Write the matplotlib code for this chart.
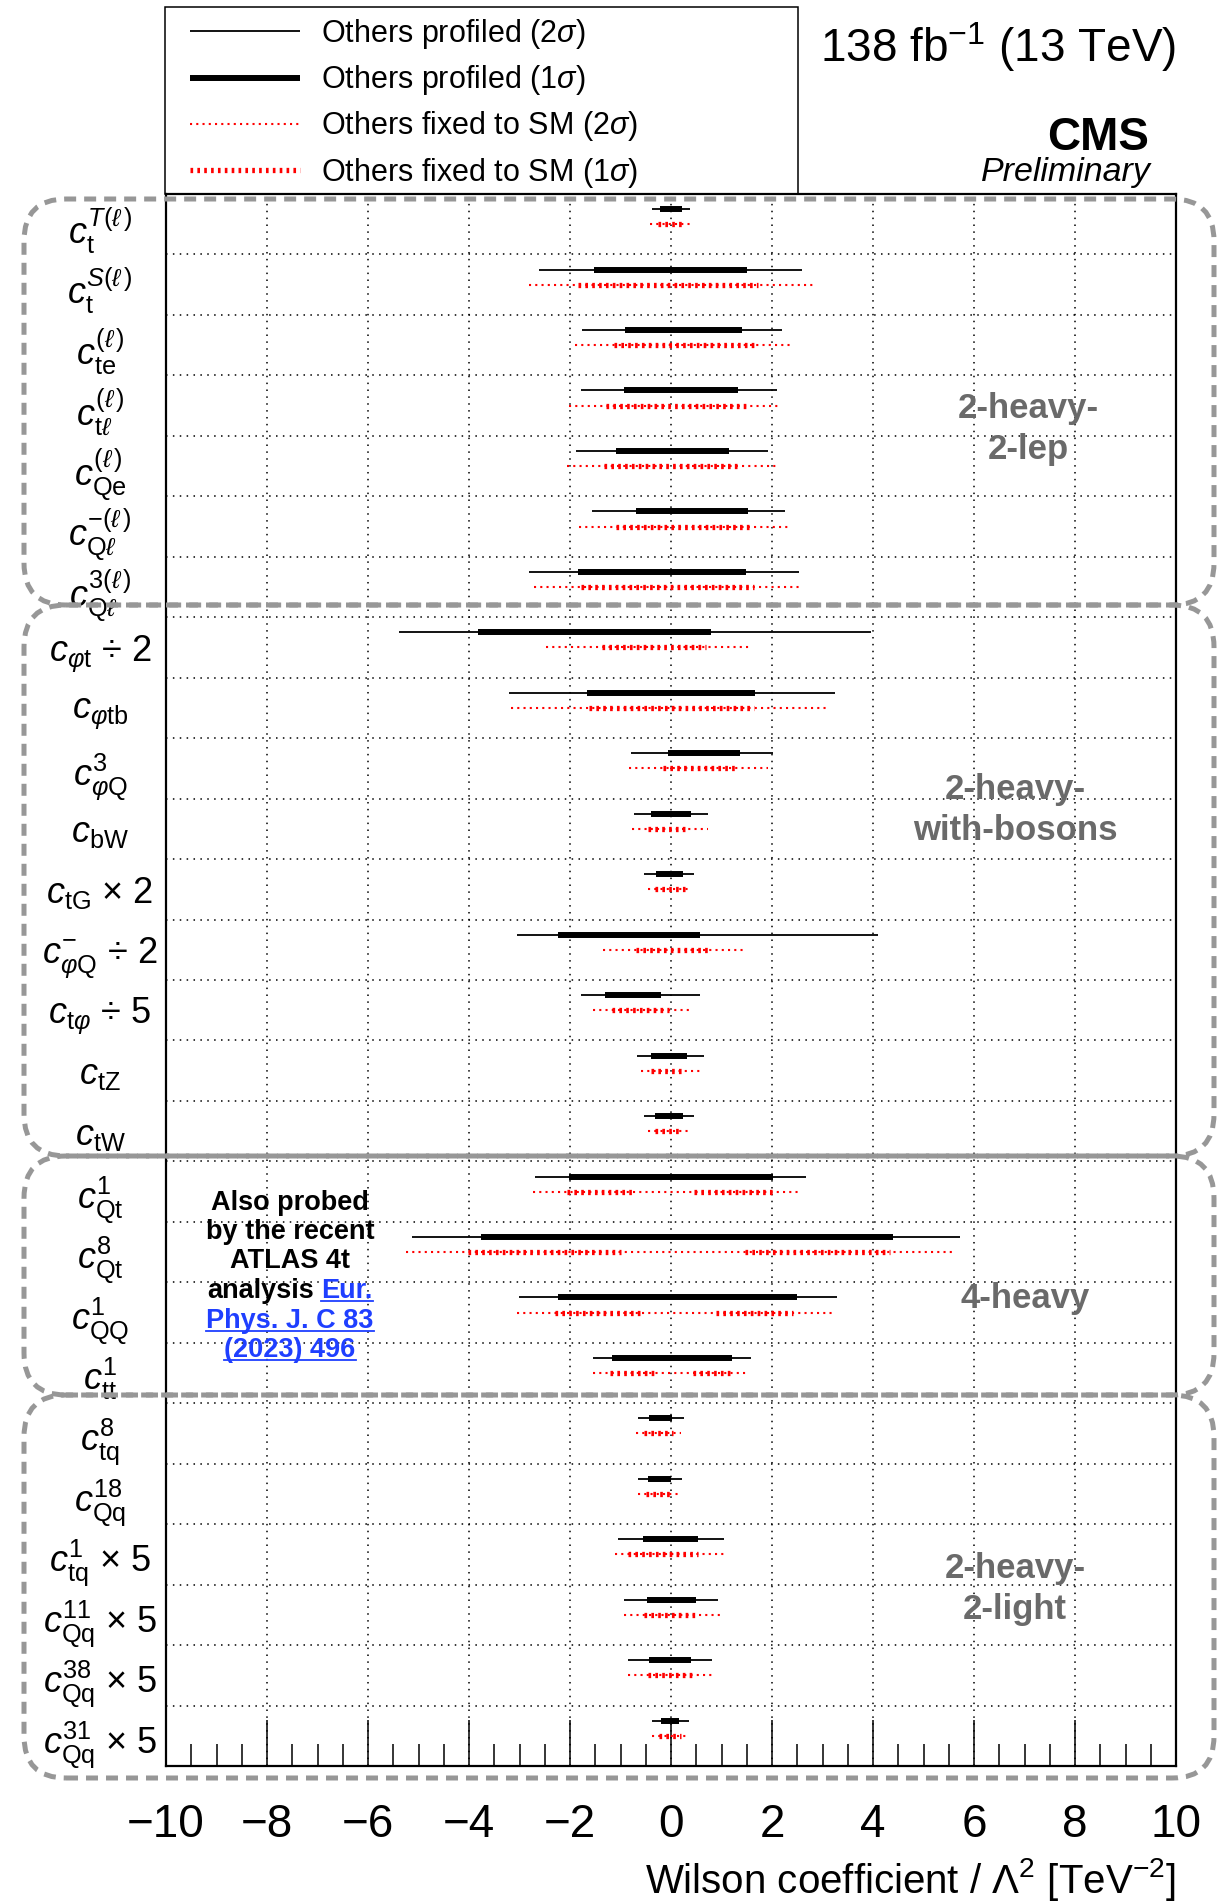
import matplotlib
matplotlib.use('Agg')
import matplotlib.pyplot as plt
from matplotlib.patches import FancyBboxPatch, Rectangle
from matplotlib.lines import Line2D
from matplotlib.ticker import MultipleLocator, FixedLocator

plt.rcParams['font.family'] = ['Liberation Sans', 'DejaVu Sans']
plt.rcParams['mathtext.fontset'] = 'custom'
plt.rcParams['mathtext.rm'] = 'Liberation Sans'
plt.rcParams['mathtext.it'] = 'Liberation Sans:italic'
plt.rcParams['mathtext.bf'] = 'Liberation Sans:bold'
plt.rcParams['mathtext.fallback'] = 'stixsans'

# Wilson coefficients, top to bottom
labels = [
    r'$c_{\mathrm{t}}^{T(\ell\,)}$', r'$c_{\mathrm{t}}^{S(\ell\,)}$', r'$c_{\mathrm{te}}^{(\ell\,)}$',
    r'$c_{\mathrm{t}\ell}^{(\ell\,)}$', r'$c_{\mathrm{Qe}}^{(\ell\,)}$', r'$c_{\mathrm{Q}\ell}^{-(\ell\,)}$',
    r'$c_{\mathrm{Q}\ell}^{3(\ell\,)}$',
    r'$c_{\varphi\mathrm{t}}$ ÷ 2', r'$c_{\varphi\mathrm{tb}}$', r'$c_{\varphi\mathrm{Q}}^{3}$',
    r'$c_{\mathrm{bW}}$', r'$c_{\mathrm{tG}}$ × 2', r'$c_{\varphi\mathrm{Q}}^{-}$ ÷ 2',
    r'$c_{\mathrm{t}\varphi}$ ÷ 5', r'$c_{\mathrm{tZ}}$', r'$c_{\mathrm{tW}}$',
    r'$c_{\mathrm{Qt}}^{1}$', r'$c_{\mathrm{Qt}}^{8}$', r'$c_{\mathrm{QQ}}^{1}$', r'$c_{\mathrm{tt}}^{1}$',
    r'$c_{\mathrm{tq}}^{8}$', r'$c_{\mathrm{Qq}}^{18}$', r'$c_{\mathrm{tq}}^{1}$ × 5',
    r'$c_{\mathrm{Qq}}^{11}$ × 5', r'$c_{\mathrm{Qq}}^{38}$ × 5', r'$c_{\mathrm{Qq}}^{31}$ × 5',
]

# others profiled, 2 sigma
prof2_lo = [-0.37, -2.61, -1.76, -1.78, -1.89, -1.56, -2.82, -5.38, -3.21, -0.80, -0.74, -0.54, -3.04,
            -1.79, -0.68, -0.53, -2.70, -5.13, -3.01, -1.55, -0.66, -0.66, -1.05, -0.94, -0.85, -0.37]
prof2_hi = [0.37, 2.59, 2.20, 2.09, 1.93, 2.26, 2.53, 3.96, 3.25, 2.01, 0.74, 0.46, 4.10,
            0.57, 0.65, 0.45, 2.67, 5.73, 3.29, 1.59, 0.25, 0.22, 1.04, 0.94, 0.82, 0.36]
# others profiled, 1 sigma
prof1_lo = [-0.21, -1.52, -0.92, -0.93, -1.09, -0.69, -1.84, -3.83, -1.67, -0.06, -0.39, -0.29, -2.24,
            -1.30, -0.40, -0.31, -2.02, -3.76, -2.23, -1.17, -0.43, -0.45, -0.56, -0.48, -0.43, -0.19]
prof1_hi = [0.22, 1.50, 1.40, 1.33, 1.14, 1.52, 1.49, 0.79, 1.67, 1.36, 0.39, 0.23, 0.57,
            -0.19, 0.31, 0.23, 2.01, 4.39, 2.49, 1.21, 0.02, 0.00, 0.53, 0.49, 0.39, 0.15]
# others fixed to SM, 2 sigma
fix2_lo = [-0.41, -2.81, -1.91, -2.01, -2.05, -1.82, -2.71, -2.47, -3.17, -0.83, -0.77, -0.46, -1.34,
           -1.55, -0.59, -0.46, -2.74, -5.25, -3.04, -1.55, -0.70, -0.66, -1.11, -0.94, -0.85, -0.37]
fix2_hi = [0.41, 2.81, 2.40, 2.18, 2.13, 2.34, 2.59, 1.55, 3.12, 1.93, 0.74, 0.39, 1.42,
           0.42, 0.59, 0.40, 2.55, 5.60, 3.21, 1.55, 0.19, 0.19, 1.04, 1.00, 0.82, 0.31]
# others fixed to SM, 1 sigma (some intervals are split in two)
fix1_segments = [
    [(-0.26, 0.26)], [(-1.85, 1.72)], [(-1.12, 1.65)], [(-1.29, 1.52)], [(-1.32, 1.39)],
    [(-1.09, 1.58)], [(-1.78, 1.65)], [(-1.36, 0.70)], [(-1.62, 1.65)], [(-0.15, 1.27)],
    [(-0.46, 0.34)], [(-0.31, 0.28)], [(-0.70, 0.77)], [(-1.16, -0.03)], [(-0.39, 0.28)],
    [(-0.31, 0.15)],
    [(-2.06, -0.77), (0.46, 2.01)], [(-4.02, -1.00), (1.47, 4.33)],
    [(-2.29, -0.57), (0.90, 2.41)], [(-1.21, -0.28), (0.43, 1.21)],
    [(-0.53, 0.03)], [(-0.49, 0.00)], [(-0.85, 0.54)], [(-0.53, 0.54)], [(-0.46, 0.46)],
    [(-0.23, 0.19)],
]

groups = ['2-heavy-\n2-lep', '2-heavy-\nwith-bosons', '4-heavy', '2-heavy-\n2-light']

W, H = 1224, 1901
fig = plt.figure(figsize=(W / 100, H / 100), dpi=100)
ax = fig.add_axes([166 / W, (H - 1766) / H, 1010 / W, 1572 / H])


def fx(px):
    return px / W


def fy(py):
    return 1 - py / H


n = len(labels)
for i in range(n):
    yb = i + 0.25
    yr = i + 0.5
    h2, = ax.plot([prof2_lo[i], prof2_hi[i]], [yb, yb], color='black', lw=1.3, solid_capstyle='butt', zorder=4)
    h1, = ax.plot([prof1_lo[i], prof1_hi[i]], [yb, yb], color='black', lw=4.3, solid_capstyle='butt', zorder=5)
    hf2, = ax.plot([fix2_lo[i], fix2_hi[i]], [yr, yr], color='red', lw=1.5, ls=(0, (1, 2)),
                   dash_capstyle='butt', zorder=4)
    for lo, hi in fix1_segments[i]:
        hf1, = ax.plot([lo, hi], [yr, yr], color='red', lw=3.8, ls=(0, (0.5, 0.8)),
                       dash_capstyle='butt', zorder=5)

ax.set_xlim(-10, 10)
ax.set_ylim(n, 0)
ax.xaxis.set_major_locator(MultipleLocator(2))
ax.xaxis.set_minor_locator(MultipleLocator(0.5))
ax.yaxis.set_major_locator(FixedLocator([i + 0.5 for i in range(n)]))
ax.yaxis.set_minor_locator(FixedLocator(list(range(1, n))))
ax.set_yticklabels(labels)
for t in ax.get_yticklabels():
    t.set_ha('center')
ax.tick_params(axis='y', which='both', length=0, labelsize=26, pad=47.5)
ax.tick_params(axis='x', which='major', direction='in', length=33, width=1.1, labelsize=33, pad=26.5)
ax.tick_params(axis='x', which='minor', direction='in', length=16, width=1.1)
ax.grid(axis='x', which='major', color='black', ls=(0, (1, 3.5)), lw=1.1)
ax.grid(axis='y', which='minor', color='black', ls=(0, (1, 3.5)), lw=1.1)
for s in ax.spines.values():
    s.set_linewidth(1.6)

# legend
fig.add_artist(Rectangle((fx(165), fy(194)), fx(798) - fx(165), fy(7) - fy(194),
                         transform=fig.transFigure, fc='none', ec='black', lw=1.1, zorder=3))
leg = ax.legend([h2, h1, hf2, hf1],
                [r'Others profiled (2$\sigma$)', r'Others profiled (1$\sigma$)',
                 r'Others fixed to SM (2$\sigma$)', r'Others fixed to SM (1$\sigma$)'],
                loc='upper left', bbox_to_anchor=(fx(190), fy(17)), bbox_transform=fig.transFigure,
                frameon=False, borderpad=0, borderaxespad=0, handlelength=3.6, handletextpad=0.7,
                labelspacing=0.4, fontsize=22)
leg.set_zorder(6)

# group boxes (rounded, dashed)
box_edges = [(199, 605), (605, 1156), (1156, 1395), (1395, 1778)]
for top, bot in box_edges:
    fig.add_artist(FancyBboxPatch((24 / 100, (H - bot) / 100), (1214 - 24) / 100, (bot - top) / 100,
                                  boxstyle='round,pad=0,rounding_size=0.42',
                                  transform=fig.dpi_scale_trans, fill=False, ec='#979797', lw=3.6,
                                  ls=(0, (2.4, 1.6)), zorder=7))

group_pos = [(1028, 429), (1015, 810), (1025, 1298), (1015, 1589)]
for g, (gx, gy) in zip(groups, group_pos):
    fig.text(fx(gx), fy(gy), g, ha='center', va='center', fontsize=25, fontweight='bold',
             color='#6a6a6a', linespacing=1.3, zorder=8)

# ATLAS note
note_x = 290
fs_note = 19.5
fig.text(fx(note_x), fy(1210), 'Also probed', ha='center', va='baseline', fontsize=fs_note, fontweight='bold')
fig.text(fx(note_x), fy(1239), 'by the recent', ha='center', va='baseline', fontsize=fs_note, fontweight='bold')
fig.text(fx(note_x), fy(1268), 'ATLAS 4t', ha='center', va='baseline', fontsize=fs_note, fontweight='bold')
link = '#1f3fff'
ta = fig.text(0, fy(1298), 'analysis', ha='left', va='baseline', fontsize=fs_note, fontweight='bold')
tb = fig.text(0, fy(1298), 'Eur.', ha='left', va='baseline', fontsize=fs_note, fontweight='bold', color=link)
tc = fig.text(fx(note_x), fy(1328), 'Phys. J. C 83', ha='center', va='baseline', fontsize=fs_note,
              fontweight='bold', color=link)
td = fig.text(fx(note_x), fy(1357), '(2023) 496', ha='center', va='baseline', fontsize=fs_note,
              fontweight='bold', color=link)
fig.canvas.draw()
r = fig.canvas.get_renderer()
wa = ta.get_window_extent(r).width
wb = tb.get_window_extent(r).width
gap = 7
x0 = note_x - (wa + gap + wb) / 2
ta.set_x(fx(x0))
tb.set_x(fx(x0 + wa + gap))
fig.canvas.draw()
for t, base in [(tb, 1298), (tc, 1328), (td, 1357)]:
    bb = t.get_window_extent(r)
    fig.add_artist(Line2D([bb.x0 / W, bb.x1 / W], [fy(base + 3), fy(base + 3)],
                          transform=fig.transFigure, color=link, lw=1.3))

# header texts
fig.text(fx(1176), fy(62), r'138 fb$^{-1}$ (13 TeV)', ha='right', va='baseline', fontsize=33)
fig.text(fx(1149), fy(150), 'CMS', ha='right', va='baseline', fontsize=33, fontweight='bold')
fig.text(fx(1151), fy(181), 'Preliminary', ha='right', va='baseline', fontsize=24.5, style='italic')
fig.text(fx(1176), fy(1893), r'Wilson coefficient / $\Lambda^{2}$ [TeV$^{-2}$]', ha='right',
         va='baseline', fontsize=29)

fig.savefig('out.png', dpi=100)
